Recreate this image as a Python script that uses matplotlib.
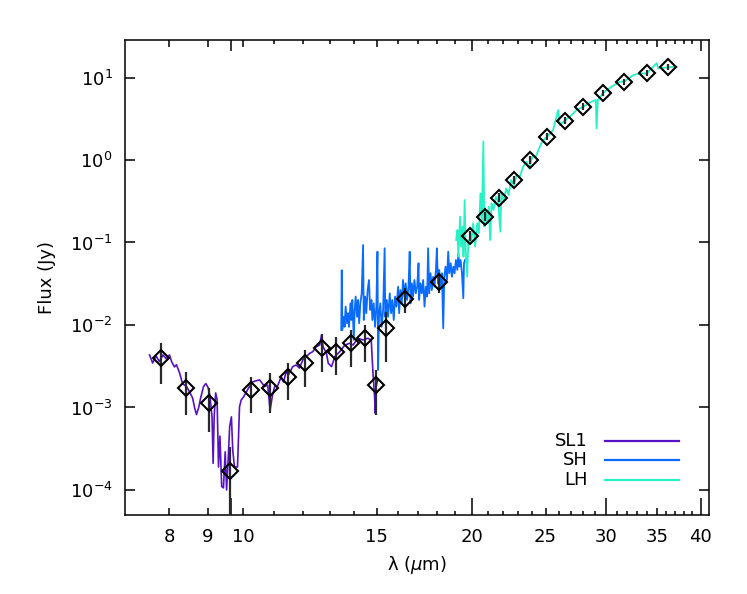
import matplotlib
matplotlib.use("Agg")
import matplotlib.pyplot as plt
from matplotlib.ticker import FixedLocator, FixedFormatter, NullLocator, NullFormatter, LogLocator

# IRS spectra (wavelength in micron, flux in Jy)
sl1_wave = [7.54, 7.61, 7.69, 7.77, 7.85, 7.93, 8.01, 8.06, 8.13, 8.18,
            8.26, 8.33, 8.43, 8.51, 8.59, 8.64, 8.69, 8.75, 8.80, 8.88,
            8.94, 9.00, 9.05, 9.11, 9.14, 9.17, 9.21, 9.25, 9.29, 9.33,
            9.38, 9.43, 9.48, 9.52, 9.56, 9.61, 9.66, 9.70, 9.75, 9.84,
            9.90, 9.95, 10.02, 10.20, 10.31, 10.52, 10.60, 10.68, 10.78, 10.86,
            10.94, 11.01, 11.11, 11.23, 11.31, 11.40, 11.48, 11.63, 11.75, 11.87,
            11.99, 12.12, 12.24, 12.36, 12.49, 12.62, 12.69, 12.75, 12.88, 12.95,
            13.08, 13.21, 13.41, 13.62, 13.82, 13.96, 14.17, 14.38, 14.60, 14.75,
            14.82, 14.90, 14.93, 14.97, 15.04]
sl1_flux = [4.33e-3, 3.46e-3, 4.2e-3, 3.6e-3, 4.33e-3, 3.9e-3, 4.33e-3, 3.6e-3, 3.1e-3, 3.3e-3,
            2.6e-3, 1.95e-3, 1.8e-3, 1.55e-3, 1.3e-3, 1.0e-3, 8.2e-4, 1.0e-3, 1.3e-3, 1.8e-3,
            1.95e-3, 1.75e-3, 1.4e-3, 7.7e-4, 2.1e-4, 7.9e-4, 1.5e-3, 1.25e-3, 1.9e-4, 4.5e-4,
            1.1e-4, 1.06e-4, 2.9e-4, 1.0e-4, 2.1e-4, 5.9e-4, 7.7e-4, 3.0e-4, 1.9e-4, 1.9e-4,
            1.02e-3, 1.23e-3, 1.34e-3, 1.79e-3, 2.05e-3, 2.16e-3, 1.97e-3, 1.79e-3, 1.87e-3, 9.3e-4,
            1.41e-3, 1.79e-3, 1.82e-3, 2.36e-3, 2.03e-3, 2.72e-3, 2.48e-3, 3.13e-3, 3.27e-3, 3.0e-3,
            3.77e-3, 4.13e-3, 4.53e-3, 4.75e-3, 5.46e-3, 5.72e-3, 7.57e-3, 5.46e-3, 4.53e-3, 3.43e-3,
            3.13e-3, 4.13e-3, 4.75e-3, 5.72e-3, 6.0e-3, 5.72e-3, 6.9e-3, 6.58e-3, 6.9e-3, 6.58e-3,
            2.85e-3, 1.35e-3, 8.5e-4, 1.79e-3, 2.16e-3]

sh_wave = [13.47, 13.49, 13.51, 13.57, 13.61, 13.65, 13.71, 13.75, 13.79, 13.85,
           13.89, 13.93, 13.99, 14.03, 14.07, 14.13, 14.17, 14.22, 14.27, 14.33,
           14.39, 14.42, 14.48, 14.53, 14.59, 14.65, 14.70, 14.76, 14.80, 14.86,
           14.92, 14.98, 15.03, 15.06, 15.10, 15.16, 15.22, 15.29, 15.36, 15.39,
           15.46, 15.52, 15.60, 15.66, 15.72, 15.79, 15.85, 15.92, 16.00, 16.05,
           16.11, 16.18, 16.24, 16.31, 16.37, 16.44, 16.51, 16.57, 16.61, 16.68,
           16.74, 16.81, 16.88, 16.95, 17.02, 17.05, 17.12, 17.19, 17.26, 17.33,
           17.40, 17.47, 17.52, 17.58, 17.65, 17.72, 17.79, 17.86, 17.94, 17.99,
           18.05, 18.12, 18.19, 18.27, 18.34, 18.40, 18.47, 18.55, 18.62, 18.68,
           18.76, 18.83, 18.91, 18.98, 19.06, 19.14, 19.20, 19.26, 19.33, 19.41,
           19.49, 19.53, 19.59]
sh_flux = [0.0087, 0.046, 0.0087, 0.0126, 0.0095, 0.0167, 0.0105, 0.0139, 0.0095, 0.0183,
           0.0115, 0.0201, 0.0066, 0.0152, 0.0221, 0.0126, 0.0201, 0.0105, 0.0183, 0.0242,
           0.0933, 0.0115, 0.0221, 0.0139, 0.0265, 0.0351, 0.0152, 0.0201, 0.0115, 0.0183,
           0.0095, 0.0167, 0.0773, 0.00285, 0.0126, 0.0183, 0.0095, 0.0152, 0.0851, 0.0126,
           0.0201, 0.0126, 0.0242, 0.0139, 0.0201, 0.0115, 0.0221, 0.0167, 0.0291, 0.0139,
           0.0265, 0.0183, 0.0351, 0.0221, 0.0320, 0.0201, 0.0291, 0.0773, 0.0183, 0.0320,
           0.0221, 0.0351, 0.0242, 0.0291, 0.0560, 0.0201, 0.0320, 0.0242, 0.0351, 0.0167,
           0.0291, 0.0221, 0.0851, 0.0242, 0.0424, 0.0265, 0.0384, 0.0291, 0.0465, 0.0851,
           0.0320, 0.0465, 0.0291, 0.0424, 0.0091, 0.0384, 0.0510, 0.0351, 0.0773, 0.0424,
           0.0560, 0.0384, 0.0510, 0.0424, 0.0614, 0.0465, 0.0739, 0.0510, 0.0614, 0.0424,
           0.0211, 0.0560, 0.0614]

lh_wave = [19.07, 19.15, 19.20, 19.30, 19.36, 19.44, 19.50, 19.57, 19.63, 19.72,
           19.79, 19.96, 20.08, 20.20, 20.33, 20.43, 20.53, 20.62, 20.71, 20.77,
           20.86, 20.97, 21.05, 21.14, 21.23, 21.36, 21.51, 21.66, 21.80, 21.87,
           22.03, 22.19, 22.35, 22.53, 22.72, 22.91, 23.12, 23.36, 23.60, 23.78,
           24.02, 24.27, 24.47, 24.67, 24.86, 25.12, 25.58, 25.97, 26.10, 26.50,
           27.05, 27.46, 28.02, 28.73, 29.11, 29.17, 29.29, 29.77, 30.53, 31.31,
           31.71, 32.60, 33.27, 33.95, 34.99, 35.16, 36.17, 37.17]
lh_flux = [0.107, 0.142, 0.0673, 0.206, 0.089, 0.156, 0.0673, 0.327, 0.081, 0.0385,
           0.107, 0.0977, 0.171, 0.089, 0.171, 0.129, 0.394, 0.188, 1.67, 0.156,
           0.248, 0.171, 0.272, 0.107, 0.299, 0.248, 0.359, 0.313, 0.135, 0.394,
           0.313, 0.454, 0.377, 0.573, 0.498, 0.658, 0.628, 0.830, 0.954, 0.792,
           1.10, 1.10, 1.32, 1.59, 1.75, 1.92, 2.31, 4.04, 2.66, 3.0,
           3.51, 4.04, 4.43, 5.09, 5.34, 2.42, 5.34, 6.55, 7.74, 8.9,
           8.9, 10.7, 11.2, 11.2, 14.9, 12.9, 13.3, 13.5]

# photometry points with error bar ends
phot_wave = [7.81, 8.43, 9.02, 9.63, 10.26, 10.87, 11.46, 12.08, 12.69, 13.27,
             13.89, 14.49, 14.98, 15.44, 16.32, 18.11, 19.88, 20.80, 21.72, 22.71,
             23.88, 25.12, 26.50, 28.02, 29.77, 31.71, 33.95, 36.17]
phot_flux = [3.94e-3, 1.74e-3, 1.12e-3, 1.7e-4, 1.63e-3, 1.71e-3, 2.36e-3, 3.43e-3, 5.2e-3, 4.75e-3,
             6.1e-3, 6.9e-3, 1.87e-3, 9.3e-3, 0.0207, 0.0335, 0.12, 0.206, 0.351, 0.573,
             1.0, 1.92, 3.0, 4.43, 6.55, 8.9, 11.2, 13.3]
phot_hi = [6.0e-3, 2.72e-3, 1.71e-3, 3.35e-4, 2.36e-3, 2.6e-3, 3.49e-3, 4.98e-3, 7.78e-3, 7.2e-3,
           8.7e-3, 1.0e-2, 2.85e-3, 0.0145, 0.0279, 0.0404, 0.138, 0.234, 0.395, 0.64,
           1.11, 2.12, 3.3, 4.85, 7.15, 9.7, 12.2, 14.4]
phot_lo = [1.93e-3, 8.1e-4, 5.1e-4, 1e-5, 8.5e-4, 8.5e-4, 1.23e-3, 1.79e-3, 2.72e-3, 2.48e-3,
           3.13e-3, 3.6e-3, 8.1e-4, 3.59e-3, 0.0139, 0.0242, 0.105, 0.181, 0.312, 0.513,
           0.90, 1.74, 2.72, 4.05, 6.0, 8.2, 10.3, 12.3]

xticks = [8, 9, 9.64, 10, 15, 20, 25, 30, 35, 40]
xticklabels = ['8', '9', '', '10', '15', '20', '25', '30', '35', '40']
long_ticks = [9.64, 20, 30, 40]

colors = {'SL1': '#5812C4', 'SH': '#0A6CFF', 'LH': '#26F2C6'}

plt.rcParams['font.family'] = 'DejaVu Sans'
fig = plt.figure(figsize=(7.47, 5.94), dpi=100)
ax = fig.add_axes([125/747, 1-515/594, 584/747, 475/594])

ax.plot(sl1_wave, sl1_flux, color=colors['SL1'], lw=1.2, zorder=2)
ax.plot(sh_wave, sh_flux, color=colors['SH'], lw=1.3, zorder=2)
ax.plot(lh_wave, lh_flux, color=colors['LH'], lw=1.3, zorder=2)

yerr = [[f - l for f, l in zip(phot_flux, phot_lo)],
        [h - f for f, h in zip(phot_flux, phot_hi)]]
ax.errorbar(phot_wave, phot_flux, yerr=yerr, fmt='none', ecolor='#2a2a2a',
            elinewidth=1.6, capsize=0, zorder=3)
ax.plot(phot_wave, phot_flux, 'D', ms=8.2, mfc='none', mec='black', mew=1.5, zorder=4)

ax.set_xscale('log')
ax.set_yscale('log')
ax.set_xlim(7.0, 41.0)
ax.set_ylim(4.97e-5, 28.5)

ax.xaxis.set_major_locator(FixedLocator(xticks))
ax.xaxis.set_major_formatter(FixedFormatter(xticklabels))
minor = [v for v in range(8, 41) if v not in xticks]
ax.xaxis.set_minor_locator(FixedLocator(minor))
ax.xaxis.set_minor_formatter(NullFormatter())
ax.yaxis.set_major_locator(LogLocator(base=10, numticks=12))
ax.yaxis.set_minor_locator(NullLocator())

ax.tick_params(which='both', direction='in', top=True, right=True, width=1.1, labelsize=13)
ax.tick_params(axis='x', which='major', length=5, pad=9)
ax.tick_params(axis='x', which='minor', length=3)
ax.tick_params(axis='y', which='major', length=7, pad=9)
for tick, loc in zip(ax.xaxis.get_major_ticks(), xticks):
    if loc in long_ticks:
        tick.tick1line.set_markersize(12)
        tick.tick2line.set_markersize(8)
for s in ax.spines.values():
    s.set_linewidth(1.1)

ax.set_xlabel('λ ($\\mu$m)', fontsize=13, labelpad=6)
ax.set_ylabel('Flux (Jy)', fontsize=13, labelpad=10)

# legend drawn by hand, labels right aligned
for i, name in enumerate(['SL1', 'SH', 'LH']):
    yy = 0.156 - i * 0.041
    ax.plot([0.822, 0.949], [yy, yy], color=colors[name], lw=1.6, transform=ax.transAxes)
    ax.text(0.793, yy, name, ha='right', va='center', fontsize=13, transform=ax.transAxes)

fig.savefig('out.png', dpi=100)
